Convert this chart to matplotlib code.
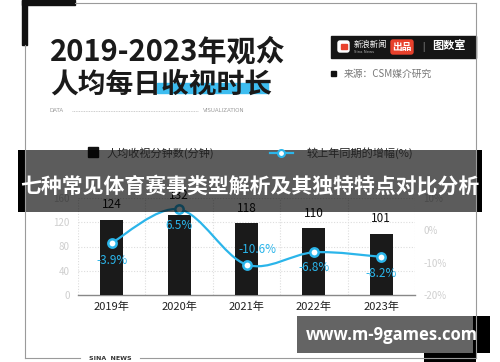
import matplotlib
matplotlib.use("Agg")
import matplotlib.pyplot as plt
from matplotlib.patches import Rectangle, FancyBboxPatch, PathPatch
from matplotlib.path import Path

plt.rcParams['font.family'] = ['Noto Sans CJK SC', 'DejaVu Sans']

# data
years = ['2019年', '2020年', '2021年', '2022年', '2023年']
minutes = [124, 132, 118, 110, 101]
growth = [-3.9, 6.5, -10.6, -6.8, -8.2]
left_ticks = [0, 40, 80, 120, 160]
right_ticks = [-20, -10, 0, 10]

BLUE = '#2bb5ea'
W, H = 500, 362

fig = plt.figure(figsize=(5, 3.62), dpi=100)
fig.patch.set_facecolor('white')

def frac(x0, y0, x1, y1):
    # pixel box -> figure fraction [left, bottom, w, h]
    return [x0 / W, 1 - y1 / H, (x1 - x0) / W, (y1 - y0) / H]

# chart axes
ax = fig.add_axes(frac(78, 198, 415, 295))
ax.patch.set_alpha(0)
xs = list(range(len(years)))
ax.bar(xs, minutes, width=0.34, color='#1a1a1a', zorder=3)
ax.set_xlim(-0.5, len(years) - 0.5)
ax.set_ylim(0, 160)
ax.set_yticks(left_ticks)
ax.set_xticks(xs)
ax.set_xticklabels(years, fontsize=8, color='#222222')
ax.tick_params(axis='y', labelsize=7, labelcolor='#cfcfcf', length=0, pad=6)
ax.tick_params(axis='x', length=0, pad=5)
for v in left_ticks[1:]:
    ax.axhline(v, color='#dddddd', lw=0.8, ls=(0, (1, 1.5)), zorder=1)
for b in [i - 0.5 for i in range(len(years) + 1)]:
    ax.axvline(b, color='#dddddd', lw=0.8, ls=(0, (1, 1.5)), zorder=1)
for s in ['top', 'right', 'left']:
    ax.spines[s].set_visible(False)
ax.spines['bottom'].set_color('#888888')
ax.spines['bottom'].set_linewidth(1)

bar_offsets = [6, 9, 6, 6, 6]
for x, v, off in zip(xs, minutes, bar_offsets):
    ax.annotate(str(v), (x, v), xytext=(0, off), textcoords='offset points',
                ha='center', va='bottom', fontsize=8.5, color='#111111', zorder=5)

# growth line on right axis
ax2 = ax.twinx()
ax2.set_ylim(-20, 10)
ax2.set_yticks(right_ticks)
ax2.set_yticklabels([f'{t}%' for t in right_ticks])
ax2.tick_params(axis='y', labelsize=7, labelcolor='#cfcfcf', length=0, pad=6)
for s in ax2.spines.values():
    s.set_visible(False)

# smooth curve through the points (catmull-rom as bezier segments)
verts = [(xs[0], growth[0])]
codes = [Path.MOVETO]
n = len(xs)
for i in range(n - 1):
    p0 = (xs[max(i - 1, 0)], growth[max(i - 1, 0)])
    p1 = (xs[i], growth[i])
    p2 = (xs[i + 1], growth[i + 1])
    p3 = (xs[min(i + 2, n - 1)], growth[min(i + 2, n - 1)])
    c1 = (p1[0] + (p2[0] - p0[0]) / 6, p1[1] + (p2[1] - p0[1]) / 6)
    c2 = (p2[0] - (p3[0] - p1[0]) / 6, p2[1] - (p3[1] - p1[1]) / 6)
    verts += [c1, c2, p2]
    codes += [Path.CURVE4] * 3
ax2.add_patch(PathPatch(Path(verts, codes), fill=False, ec=BLUE, lw=1.6, zorder=4))
ax2.plot(xs, growth, ls='none', marker='o', ms=6, mfc='white', mec=BLUE, mew=1.8, zorder=5)

pct_offsets = [(0, -13), (0, -12), (8, 11), (0, -11), (0, -12)]
for x, g, off in zip(xs, growth, pct_offsets):
    ax2.annotate(f'{g}%', (x, g), xytext=off, textcoords='offset points',
                 ha='center', va='center', fontsize=8.5, color=BLUE, zorder=6)

# decoration layer in pixel coords
d = fig.add_axes([0, 0, 1, 1], zorder=10)
d.set_xlim(0, W)
d.set_ylim(H, 0)
d.axis('off')
d.patch.set_alpha(0)

# frame
fc = '#9a9a9a'
d.plot([75, 476], [2.5, 2.5], color=fc, lw=0.8)
d.plot([476, 476], [2.5, 358], color=fc, lw=0.8)
d.plot([25, 25], [45, 358], color=fc, lw=0.8)
d.plot([25, 80], [358, 358], color=fc, lw=0.8)
d.plot([140, 476], [358, 358], color=fc, lw=0.8)
d.add_patch(Rectangle((22, 0), 53, 5, color='#111111'))
d.add_patch(Rectangle((22, 0), 5, 45, color='#111111'))
d.text(110, 359, 'SINA  NEWS', fontsize=4.5, ha='center', va='center', color='#333333',
       family=['DejaVu Sans'], weight='bold')

# title
d.text(50, 52, '2019-2023年观众', fontsize=21, weight='bold', va='center', color='#1a1a1a')
d.add_patch(Rectangle((157, 83), 111, 10, color='#3dbdf0'))
d.text(50, 85, '人均每日收视时长', fontsize=20, weight='bold', va='center', color='#1a1a1a')
d.text(50, 111, 'DATA', fontsize=4, va='center', color='#999999', family=['DejaVu Sans'])
d.plot([72, 198], [111, 111], color='#bbbbbb', lw=0.6, ls=(0, (1, 1)))
d.text(203, 111, 'VISUALIZATION', fontsize=4, va='center', color='#999999', family=['DejaVu Sans'])

# logo bar
d.add_patch(Rectangle((331, 36), 145, 22, color='#151515'))
d.add_patch(FancyBboxPatch((338, 41), 11, 11, boxstyle='round,pad=0,rounding_size=2', color='white'))
d.add_patch(Rectangle((340.5, 44), 6, 5, color='#e8412c'))
d.text(354, 44, '新浪新闻', fontsize=6, va='center', color='white')
d.text(354, 52, 'Sina News', fontsize=2.8, va='center', color='#aaaaaa', family=['DejaVu Sans'])
d.add_patch(FancyBboxPatch((391, 40), 22, 14, boxstyle='round,pad=0,rounding_size=2', color='#e8412c'))
d.text(402, 47, '出品', fontsize=7, ha='center', va='center', color='white', weight='bold')
d.text(423, 47, '|', fontsize=6, ha='center', va='center', color='#bbbbbb')
d.text(449, 46, '图数室', fontsize=8, ha='center', va='center', color='white', weight='bold', style='italic')
d.add_patch(Rectangle((331, 71), 5, 5, color='#111111'))
d.text(344, 73.5, '来源：CSM媒介研究', fontsize=7, va='center', color='#777777')

# legend
d.add_patch(Rectangle((88, 147), 10, 10, color='#111111'))
d.text(107, 153, '人均收视分钟数(分钟)', fontsize=8, va='center', color='#222222')
d.plot([270, 293], [153, 153], color=BLUE, lw=1.6)
d.plot([281], [153], marker='o', ms=5, mfc='white', mec=BLUE, mew=1.5)
d.text(307, 153, '较上年同期的增幅(%)', fontsize=8, va='center', color='#222222')

# banner overlay
d.add_patch(Rectangle((18, 150), 464, 62, color='black', alpha=0.64, lw=0))
d.add_patch(Rectangle((18, 150), 7, 62, color='black', lw=0))
d.add_patch(Rectangle((476, 150), 6, 62, color='black', lw=0))
d.text(250, 186, '七种常见体育赛事类型解析及其独特特点对比分析', fontsize=15, weight='bold',
       ha='center', va='center', color='white')

# watermark box
d.add_patch(Rectangle((473, 316), 17, 37, color='black', lw=0))
d.add_patch(Rectangle((424, 353), 52, 9, color='black', lw=0))
d.add_patch(Rectangle((297, 316), 176, 37, color='#646464', lw=0))
d.text(392, 335, 'www.m-9games.com', fontsize=12, weight='bold', ha='center', va='center',
       color='white', family=['Open Sans', 'DejaVu Sans'])

fig.savefig('out.png', dpi=100)
